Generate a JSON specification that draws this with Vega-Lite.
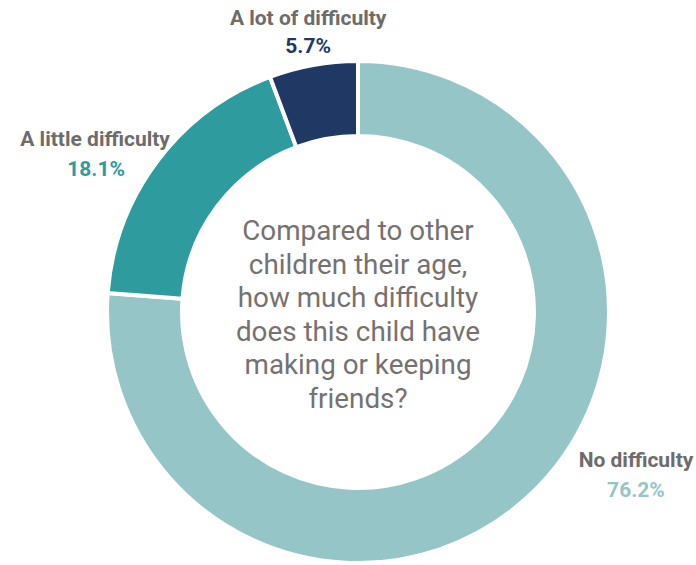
{
  "$schema": "https://vega.github.io/schema/vega-lite/v6.json",
  "width": 676,
  "height": 506,
  "autosize": {"type": "none"},
  "padding": {"left": 20, "right": 0, "top": 59, "bottom": 0},
  "background": "white",
  "config": {"view": {"stroke": null}, "font": "Roboto"},
  "datasets": {
    "shares": [
      {"category": "No difficulty", "share": 0.762, "rank": 1},
      {"category": "A little difficulty", "share": 0.181, "rank": 2},
      {"category": "A lot of difficulty", "share": 0.057, "rank": 3}
    ],
    "question": [
      {"text": "Compared to other\nchildren their age,\nhow much difficulty\ndoes this child have\nmaking or keeping\nfriends?"}
    ]
  },
  "data": {"name": "shares"},
  "encoding": {
    "theta": {"field": "share", "type": "quantitative", "stack": true},
    "order": {"field": "rank", "type": "quantitative"},
    "color": {
      "field": "category",
      "type": "nominal",
      "scale": {
        "domain": ["No difficulty", "A little difficulty", "A lot of difficulty"],
        "range": ["#95C5C6", "#2E9C9E", "#1F3864"]
      },
      "legend": null
    }
  },
  "layer": [
    {
      "mark": {"type": "arc", "outerRadius": 251, "innerRadius": 176, "stroke": "white", "strokeWidth": 4}
    },
    {
      "mark": {"type": "text", "radius": 280, "dy": -17, "fontSize": 21, "fontWeight": "bold"},
      "encoding": {
        "text": {"field": "category"},
        "color": {"value": "#6d6b6b"},
        "opacity": {"condition": {"test": "datum.category === 'A lot of difficulty'", "value": 1}, "value": 0}
      }
    },
    {
      "mark": {"type": "text", "radius": 280, "dy": 11, "fontSize": 21, "fontWeight": "bold"},
      "encoding": {
        "text": {"field": "share", "type": "quantitative", "format": ".1%"},
        "opacity": {"condition": {"test": "datum.category === 'A lot of difficulty'", "value": 1}, "value": 0}
      }
    },
    {
      "mark": {"type": "text", "radius": 300, "dx": -23, "dy": 8, "fontSize": 21, "fontWeight": "bold"},
      "encoding": {
        "text": {"field": "category"},
        "color": {"value": "#6d6b6b"},
        "opacity": {"condition": {"test": "datum.category === 'A little difficulty'", "value": 1}, "value": 0}
      }
    },
    {
      "mark": {"type": "text", "radius": 300, "dx": -22, "dy": 38, "fontSize": 21, "fontWeight": "bold"},
      "encoding": {
        "text": {"field": "share", "type": "quantitative", "format": ".1%"},
        "opacity": {"condition": {"test": "datum.category === 'A little difficulty'", "value": 1}, "value": 0}
      }
    },
    {
      "mark": {"type": "text", "radius": 300, "dx": 74, "dy": -71, "fontSize": 21, "fontWeight": "bold"},
      "encoding": {
        "text": {"field": "category"},
        "color": {"value": "#6d6b6b"},
        "opacity": {"condition": {"test": "datum.category === 'No difficulty'", "value": 1}, "value": 0}
      }
    },
    {
      "mark": {"type": "text", "radius": 300, "dx": 74, "dy": -41, "fontSize": 21, "fontWeight": "bold"},
      "encoding": {
        "text": {"field": "share", "type": "quantitative", "format": ".1%"},
        "opacity": {"condition": {"test": "datum.category === 'No difficulty'", "value": 1}, "value": 0}
      }
    },
    {
      "data": {"name": "question"},
      "mark": {"type": "text", "fontSize": 27.8, "lineHeight": 33.6, "lineBreak": "\n", "color": "#767171", "align": "center", "baseline": "middle", "dy": -80},
      "encoding": {"text": {"field": "text"}, "theta": null, "order": null, "color": null}
    }
  ]
}
